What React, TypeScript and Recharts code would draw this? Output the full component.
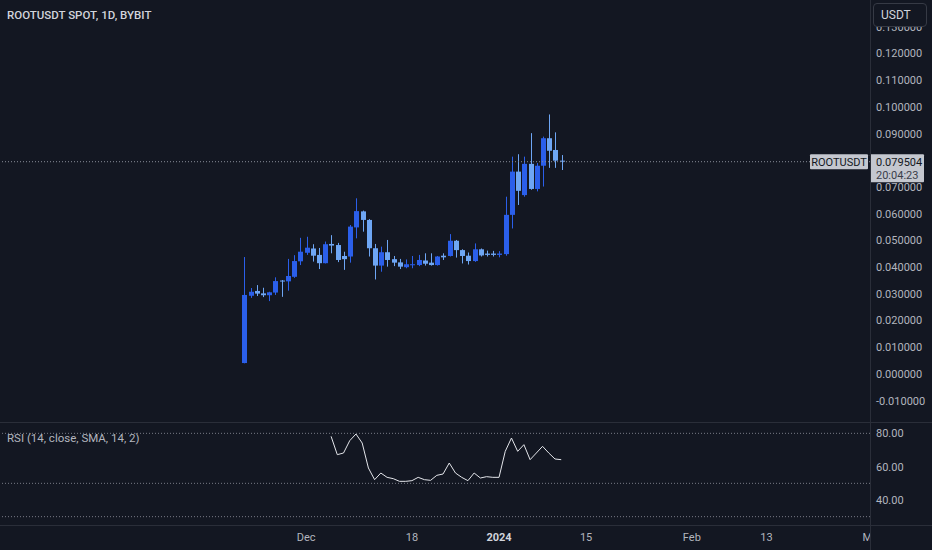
import { ComposedChart, Bar, Line, XAxis, YAxis, ReferenceLine } from 'recharts';

// daily candles, first one on this date
const startDate = '2023-11-21';

const opens = [
  0.0041, 0.0293, 0.0311, 0.0302, 0.0295, 0.0305, 0.035, 0.0347, 0.0364, 0.0422,
  0.0454, 0.047, 0.0446, 0.0415, 0.0487, 0.0483, 0.0442, 0.044, 0.0549, 0.0609,
  0.0577, 0.0471, 0.0406, 0.0456, 0.043, 0.0418, 0.04, 0.0408, 0.0408, 0.0425,
  0.0417, 0.0408, 0.0443, 0.0442, 0.0499, 0.0464, 0.0443, 0.0423, 0.0467, 0.0451,
  0.0451, 0.0446, 0.0449, 0.0596, 0.0758, 0.067, 0.0787, 0.0693, 0.078, 0.0883,
  0.0839, 0.0799,
];
const highs = [
  0.0438, 0.0322, 0.0333, 0.0323, 0.0308, 0.0362, 0.0352, 0.0431, 0.0445, 0.051,
  0.0514, 0.0486, 0.0472, 0.0496, 0.052, 0.0491, 0.0458, 0.0558, 0.0658, 0.0612,
  0.058, 0.0487, 0.0477, 0.0502, 0.0442, 0.0431, 0.0429, 0.0442, 0.0446, 0.0452,
  0.0452, 0.0442, 0.0452, 0.0524, 0.0502, 0.0467, 0.0455, 0.0489, 0.047, 0.0462,
  0.0461, 0.046, 0.0664, 0.0814, 0.0823, 0.0814, 0.0902, 0.079, 0.0889, 0.0972,
  0.0905, 0.082,
];
const lows = [
  0.004, 0.0285, 0.0292, 0.0288, 0.0273, 0.0296, 0.0289, 0.0312, 0.036, 0.0408,
  0.0446, 0.0421, 0.0393, 0.0414, 0.0452, 0.0419, 0.039, 0.0417, 0.0508, 0.0533,
  0.044, 0.0354, 0.0383, 0.0402, 0.0404, 0.0393, 0.0396, 0.0396, 0.0404, 0.0406,
  0.0406, 0.0406, 0.0427, 0.044, 0.0436, 0.0414, 0.041, 0.042, 0.044, 0.044,
  0.044, 0.0437, 0.0443, 0.0545, 0.0633, 0.0664, 0.069, 0.0684, 0.0702, 0.0772,
  0.0772, 0.0764,
];
const closes = [
  0.0296, 0.0308, 0.0301, 0.0295, 0.0306, 0.0348, 0.0347, 0.0367, 0.0423, 0.0458,
  0.0473, 0.0443, 0.0415, 0.0486, 0.0481, 0.0427, 0.043, 0.0552, 0.061, 0.0577,
  0.0471, 0.0406, 0.0456, 0.0427, 0.0417, 0.0402, 0.0411, 0.0411, 0.0427, 0.0413,
  0.0408, 0.044, 0.0437, 0.0499, 0.0464, 0.0442, 0.0423, 0.0467, 0.0444, 0.0446,
  0.0446, 0.0451, 0.0596, 0.0758, 0.0686, 0.0787, 0.0693, 0.078, 0.0883, 0.0836,
  0.0799, 0.079504,
];

// RSI(14) starts on the 15th candle
const rsiStart = 14;
const rsiValues = [
  78.2, 67.2, 68.2, 75.6, 79.6, 74.2, 59.2, 52.2, 56.2, 53.6,
  52.8, 51.2, 51.2, 51.6, 53.6, 52.2, 51.8, 54.8, 55.6, 62.2,
  56.2, 53.6, 51.6, 56.2, 53.2, 54.0, 53.6, 53.6, 69.2, 77.2,
  69.2, 73.2, 64.2, 68.2, 72.2, 68.2, 64.6, 64.2,
];

// 0.08 is hidden behind the last price tag
const priceTicks = [-0.01, 0, 0.01, 0.02, 0.03, 0.04, 0.05, 0.06, 0.07, 0.09, 0.1, 0.11, 0.12, 0.13];
const rsiTicks = [40, 60, 80];
const rsiBands = [80, 50, 30];
const timeTicks = [
  { date: '2023-12-01', label: 'Dec' },
  { date: '2023-12-18', label: '18' },
  { date: '2024-01-01', label: '2024' },
  { date: '2024-01-15', label: '15' },
  { date: '2024-02-01', label: 'Feb' },
  { date: '2024-02-13', label: '13' },
  { date: '2024-03-01', label: 'Mar' },
];

const symbol = 'ROOTUSDT';
const title = 'ROOTUSDT SPOT, 1D, BYBIT';
const rsiTitle = 'RSI (14, close, SMA, 14, 2)';
const countdown = '20:04:23';
const lastPrice = closes[closes.length - 1];

const BG = '#131722';
const BORDER = '#2a2e39';
const TEXT = '#b2b5be';
const UP = '#2b5fea';
const DOWN = '#6ea6f4';
const FONT = 'Roboto, "Noto Sans", sans-serif';

const W = 932;
const PLOT_W = 870;
const PX_PER_DAY = 6.22;
const FIRST_X = 244;

const dayNum = (s: string) => {
  const [y, m, d] = s.split('-').map(Number);
  return Date.UTC(y, m - 1, d) / 86400000;
};

const t0 = dayNum(startDate);
const xMin = t0 - FIRST_X / PX_PER_DAY;
const xMax = xMin + PLOT_W / PX_PER_DAY;

const candles = opens.map((open, i) => ({
  t: t0 + i,
  open,
  high: highs[i],
  low: lows[i],
  close: closes[i],
  rsi: i >= rsiStart ? rsiValues[i - rsiStart] : null,
}));

const tickDays = timeTicks.map((d) => dayNum(d.date));
const tickLabel = (v: number) => timeTicks.find((d) => dayNum(d.date) === v)?.label ?? '';

const Candle = (props: any) => {
  const { x, y, width, height, payload } = props;
  const { open, close, high, low } = payload;
  const h = Math.abs(height);
  const top = height < 0 ? y + height : y;
  const ratio = h / (high - low);
  const color = close >= open ? UP : DOWN;
  const bodyTop = top + (high - Math.max(open, close)) * ratio;
  const bodyH = Math.max(1, Math.abs(open - close) * ratio);
  const cx = Math.round(x + width / 2);
  return (
    <g>
      <line x1={cx + 0.5} x2={cx + 0.5} y1={top} y2={top + h} stroke={color} strokeWidth={1} />
      <rect x={cx - 2} y={bodyTop} width={5} height={bodyH} fill={color} />
    </g>
  );
};

const PriceTag = (props: any) => {
  const vb = props.viewBox;
  if (!vb) return null;
  const y = vb.y;
  const right = vb.x + vb.width;
  return (
    <g fontFamily={FONT} fontSize={11}>
      <rect x={right - 60} y={y - 7.5} width={58} height={15} fill="#c4c7cf" rx={1} />
      <text x={right - 31} y={y + 4} fill={BG} textAnchor="middle">{symbol}</text>
      <rect x={right} y={y - 7.5} width={54} height={28} fill="#c4c7cf" rx={1} />
      <text x={right + 6} y={y + 4} fill={BG}>{lastPrice.toFixed(6)}</text>
      <text x={right + 6} y={y + 17} fill="#3a3e4a">{countdown}</text>
    </g>
  );
};

const TimeTick = (props: any) => {
  const { x, y, payload } = props;
  const label = tickLabel(payload.value);
  const bold = label === '2024';
  return (
    <text x={x} y={y} dy="0.71em" textAnchor="middle" fontFamily={FONT} fontSize={11}
      fontWeight={bold ? 700 : 400} fill={bold ? '#d1d4dc' : TEXT}>
      {label}
    </text>
  );
};

export default function App() {
  return (
    <div style={{ position: 'absolute', left: 0, top: 0, width: W, height: 550, background: BG, overflow: 'hidden', fontFamily: FONT }}>
      <div style={{ position: 'absolute', left: 0, top: 0 }}>
        <ComposedChart width={W} height={422} data={candles} margin={{ top: 0, right: 0, bottom: 0, left: 0 }}>
          <XAxis dataKey="t" type="number" domain={[xMin, xMax]} hide allowDataOverflow />
          <YAxis
            orientation="right"
            width={62}
            domain={[-0.01798, 0.14007]}
            ticks={priceTicks}
            tickFormatter={(v: number) => v.toFixed(6)}
            axisLine={false}
            tickLine={false}
            tickMargin={0}
            tick={{ fill: TEXT, fontSize: 11, fontFamily: FONT, textAnchor: 'start' }}
            interval={0}
            allowDataOverflow
          />
          <ReferenceLine y={lastPrice} stroke="#8a8e99" strokeDasharray="1 2" label={(p: any) => <PriceTag {...p} />} />
          <Bar dataKey={(d: any) => [d.low, d.high]} barSize={5} shape={Candle} isAnimationActive={false} />
        </ComposedChart>
      </div>

      <div style={{ position: 'absolute', left: 0, top: 422 }}>
        <ComposedChart width={W} height={128} data={candles} margin={{ top: 0, right: 0, bottom: 0, left: 0 }}>
          <XAxis
            dataKey="t"
            type="number"
            domain={[xMin, xMax]}
            ticks={tickDays}
            interval={0}
            height={25}
            axisLine={false}
            tickLine={false}
            tick={<TimeTick />}
            allowDataOverflow
          />
          <YAxis
            orientation="right"
            width={62}
            domain={[25, 86.8]}
            ticks={rsiTicks}
            tickFormatter={(v: number) => v.toFixed(2)}
            axisLine={false}
            tickLine={false}
            tickMargin={0}
            tick={{ fill: TEXT, fontSize: 11, fontFamily: FONT, textAnchor: 'start' }}
            interval={0}
            allowDataOverflow
          />
          {rsiBands.map((b) => (
            <ReferenceLine key={b} y={b} stroke="#787b86" strokeDasharray="1 2" />
          ))}
          <Line dataKey="rsi" stroke="#e3e5ea" strokeWidth={1} dot={false} isAnimationActive={false} />
        </ComposedChart>
      </div>

      {/* pane borders */}
      <div style={{ position: 'absolute', left: 0, top: 422, width: W, height: 1, background: BORDER }} />
      <div style={{ position: 'absolute', left: 0, top: 525, width: W, height: 1, background: BORDER }} />
      <div style={{ position: 'absolute', left: 870, top: 526, width: 62, height: 24, background: BG }} />
      <div style={{ position: 'absolute', left: 870, top: 0, width: 1, height: 550, background: BORDER }} />

      <div style={{ position: 'absolute', left: 7, top: 7, color: '#d1d4dc', fontSize: 11.5, fontWeight: 500, lineHeight: '16px' }}>
        {title}
      </div>
      <div style={{ position: 'absolute', left: 7, top: 430, color: TEXT, fontSize: 11.5, lineHeight: '16px' }}>
        {rsiTitle}
      </div>
      <div style={{
        position: 'absolute', left: 873, top: 3, width: 54, height: 24, boxSizing: 'border-box',
        border: '1px solid #363a45', borderRadius: 4, background: BG, color: '#d1d4dc',
        fontSize: 12, lineHeight: '22px', paddingLeft: 7,
      }}>
        USDT
      </div>
    </div>
  );
}
